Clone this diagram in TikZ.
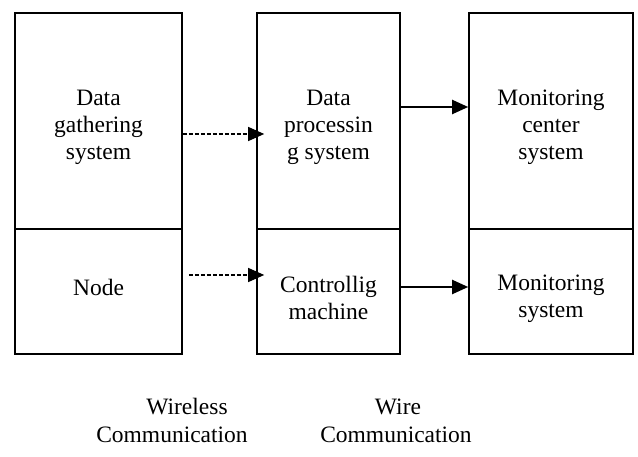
\documentclass[tikz,border=0pt]{standalone}
\usepackage{fontspec}
\setmainfont{Liberation Serif}
\usetikzlibrary{arrows.meta}

\begin{document}
\begin{tikzpicture}[x=1pt, y=-1pt]
  \tikzset{
    block/.style={draw, line width=1.6pt, minimum width=167pt},
    blocktext/.style={align=center, inner sep=0pt, font=\fontsize{23.5}{27}\selectfont},
    wireless/.style={line width=1.2pt, dash pattern=on 4pt off 2pt, -{Triangle[length=16pt, width=14pt]}},
    wire/.style={line width=2pt, -{Triangle[length=16pt, width=14pt]}},
    caption/.style={font=\fontsize{23.5}{27}\selectfont, inner sep=0pt}
  }
  \useasboundingbox (0,0) rectangle (638,457);

  % Left column
  \node[block, minimum height=216pt] (gather) at (98.5,121) {};
  \node[block, minimum height=125pt] (node) at (98.5,291.5) {};

  % Middle column
  \node[block, minimum width=143pt, minimum height=216pt] (proc) at (328.5,121) {};
  \node[block, minimum width=143pt, minimum height=125pt] (ctrl) at (328.5,291.5) {};

  % Right column
  \node[block, minimum width=164pt, minimum height=216pt] (center) at (551,121) {};
  \node[block, minimum width=164pt, minimum height=125pt] (mon) at (551,291.5) {};

  % Box texts
  \node[blocktext, yshift=-6pt] (gathertext) at (gather) {Data\\gathering\\system};
  \node[blocktext, yshift=4pt] (nodetext) at (node) {Node};
  \node[blocktext, yshift=-6pt] (proctext) at (proc) {Data\\processin\\g system};
  \node[blocktext, yshift=-6pt] (ctrltext) at (ctrl) {Controllig\\machine};
  \node[blocktext, yshift=-6pt] (centertext) at (center) {Monitoring\\center\\system};
  \node[blocktext, yshift=-7pt] (montext) at (mon) {Monitoring\\system};

  % Connectors
  \draw[wireless] (gather.east |- 0,134) -- ([xshift=8pt]proc.west |- 0,134);
  \draw[wireless] ([xshift=6pt]node.east |- 0,275) -- ([xshift=8pt]ctrl.west |- 0,275);
  \draw[wire] (proc.east |- 0,107) -- (center.west |- 0,107);
  \draw[wire] (ctrl.east |- 0,287) -- (mon.west |- 0,287);

  % Captions
  \node[caption] (wl) at (187,407) {Wireless};
  \node[caption] (wlc) at (172,435) {Communication};
  \node[caption] (wr) at (398,407) {Wire};
  \node[caption] (wrc) at (396,435) {Communication};

\end{tikzpicture}
\end{document}
